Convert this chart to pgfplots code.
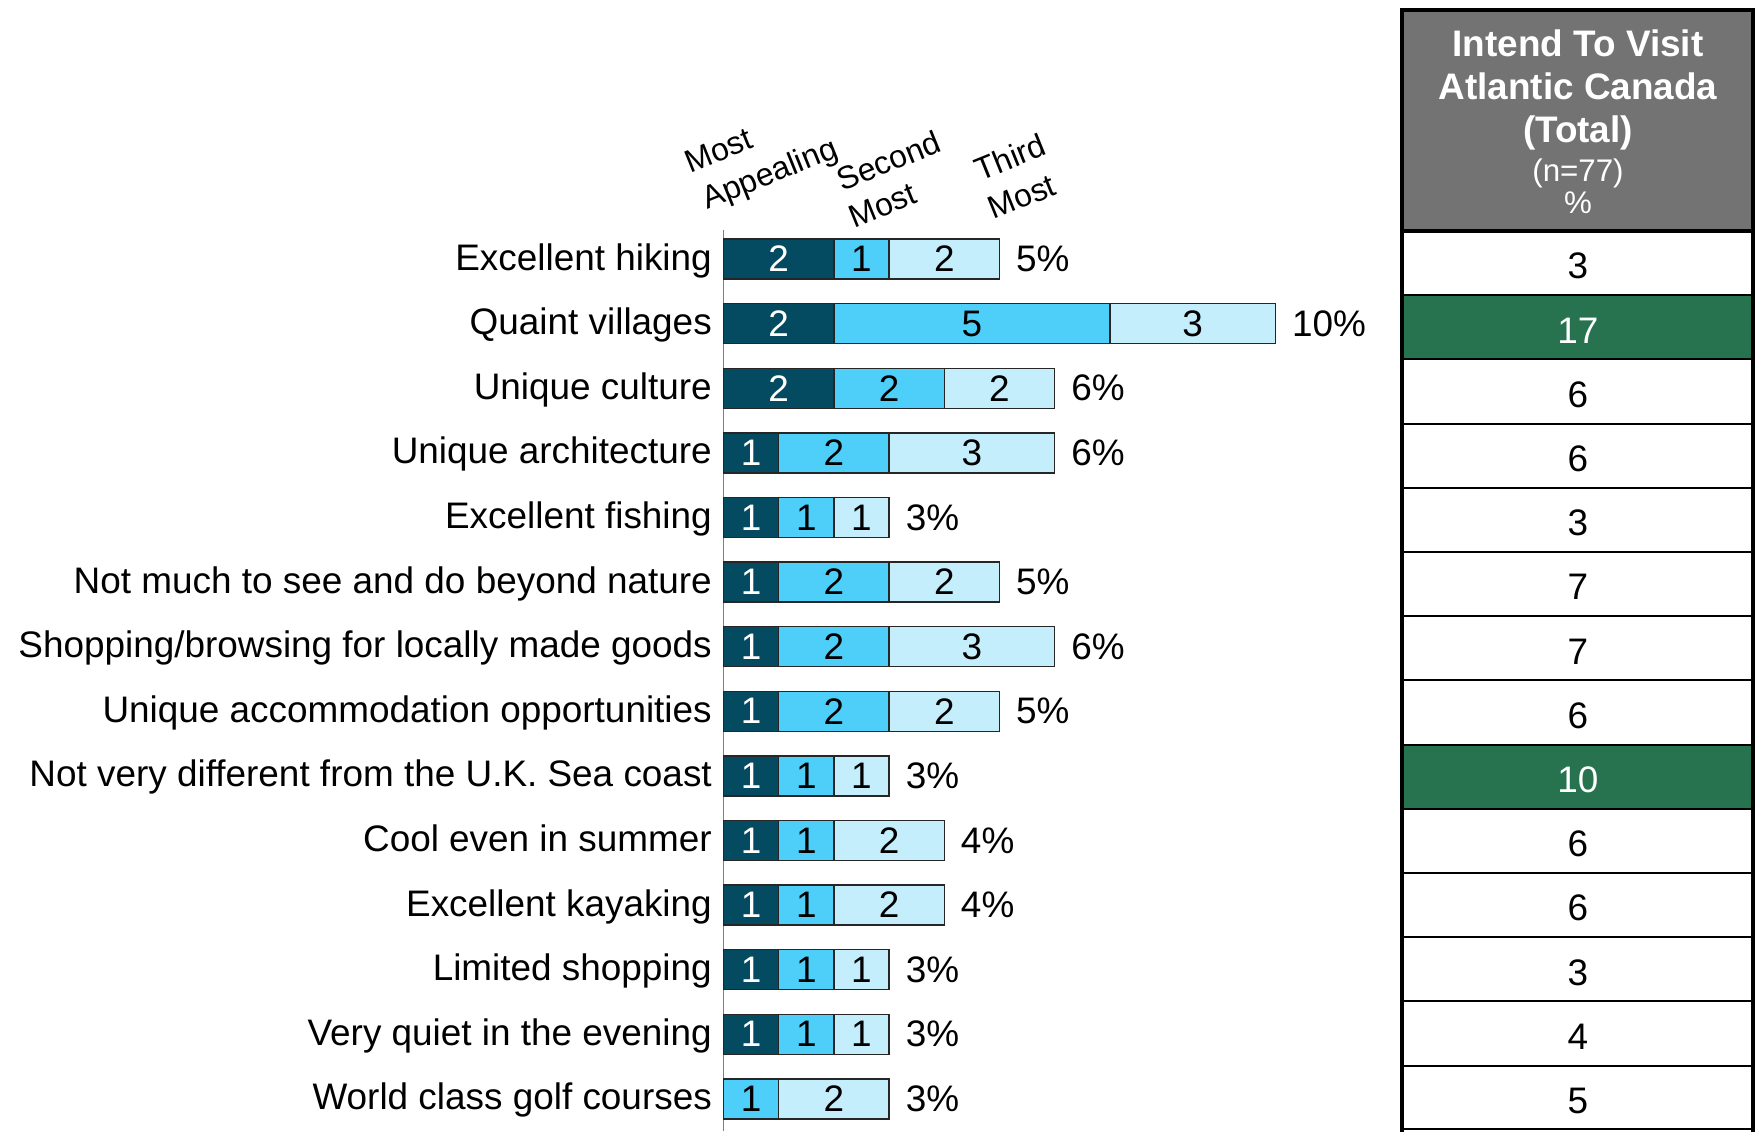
\documentclass[border=0pt]{standalone}
\usepackage{pgfplots}
\usepackage{pgfplotstable}
\pgfplotsset{compat=1.18}
\usepackage{fontspec}
\setmainfont{Liberation Sans}
\definecolor{cdark}{RGB}{4,74,97}
\definecolor{cmid}{RGB}{78,207,249}
\definecolor{clight}{RGB}{197,238,252}
\definecolor{cgreen}{RGB}{39,115,79}
\definecolor{cgray}{RGB}{115,115,115}
\newcommand\lab{\fontsize{10.5}{12}\selectfont}
\newcommand\hdr{\fontsize{9.1}{11}\selectfont}
\pgfplotstableread{
row a b c pct tab hl
0 2 1 2 5 3 0
1 2 5 3 10 17 1
2 2 2 2 6 6 0
3 1 2 3 6 6 0
4 1 1 1 3 3 0
5 1 2 2 5 7 0
6 1 2 3 6 7 0
7 1 2 2 5 6 0
8 1 1 1 3 10 1
9 1 1 2 4 6 0
10 1 1 2 4 6 0
11 1 1 1 3 3 0
12 1 1 1 3 4 0
13 0 1 2 3 5 0
}\data
\pgfplotstablecreatecol[create col/expr={\thisrow{a}+\thisrow{b}}]{ab}\data
\pgfplotstablecreatecol[create col/expr={\thisrow{a}+\thisrow{b}+\thisrow{c}}]{abc}\data
\pgfplotstablecreatecol[create col/expr={\thisrow{a}/2}]{ma}\data
\pgfplotstablecreatecol[create col/expr={\thisrow{a}+\thisrow{b}/2}]{mb}\data
\pgfplotstablecreatecol[create col/expr={\thisrow{a}+\thisrow{b}+\thisrow{c}/2}]{mc}\data
\begin{document}
\begin{tikzpicture}
\useasboundingbox (0,0) rectangle (17.6,11.31);
% table on the right
\fill[cgray] (14.02,11.21) rectangle (17.53,9.00);
\fill[cgreen] (14.02,8.358) rectangle (17.53,7.716);
\fill[cgreen] (14.02,3.864) rectangle (17.53,3.222);
\foreach \k in {1,...,13} \draw[line width=0.6pt] (14.02,{9.00-0.642*\k}) -- (17.53,{9.00-0.642*\k});
\draw[line width=0.6pt] (14.02,0.02) -- (17.53,0.02);
\draw[line width=0.9pt] (14.02,9.00) -- (17.53,9.00);
\draw[line width=1.4pt, line join=miter] (14.02,-0.1) -- (14.02,11.21) -- (17.53,11.21) -- (17.53,-0.1);
\node[anchor=base, text=white, font=\lab\bfseries] at (15.78,10.74) {Intend To Visit};
\node[anchor=base, text=white, font=\lab\bfseries] at (15.78,10.31) {Atlantic Canada};
\node[anchor=base, text=white, font=\lab\bfseries] at (15.78,9.88) {(Total)};
\node[anchor=base, text=white, font=\fontsize{8.9}{10}\selectfont] at (15.78,9.49) {(n=77)};
\node[anchor=base, text=white, font=\fontsize{8.9}{10}\selectfont] at (15.78,9.17) {\%};
% column headers
\node[anchor=base west, rotate=22, inner sep=0pt, font=\hdr] at (6.90,9.577) {Most};
\node[anchor=base west, rotate=22, inner sep=0pt, font=\hdr] at (7.07,9.21) {Appealing};
\node[anchor=base west, rotate=22, inner sep=0pt, font=\hdr] at (8.42,9.393) {Second};
\node[anchor=base west, rotate=22, inner sep=0pt, font=\hdr] at (8.537,9.027) {Most};
\node[anchor=base west, rotate=22, inner sep=0pt, font=\hdr] at (9.80,9.493) {Third};
\node[anchor=base west, rotate=22, inner sep=0pt, font=\hdr] at (9.933,9.11) {Most};
\begin{axis}[
  at={(7.235cm,0cm)}, anchor=south west,
  scale only axis, width=6.624cm, height=9.01cm,
  xmin=0, xmax=12, ymin=-0.449, ymax=13.498, y dir=reverse,
  axis x line=none, axis y line*=left,
  y axis line style={draw=black!50, line width=0.45pt},
  ytick={0,...,13},
  yticklabels={Excellent hiking, Quaint villages, Unique culture, Unique architecture, Excellent fishing, Not much to see and do beyond nature, Shopping/browsing for locally made goods, Unique accommodation opportunities, Not very different from the U.K. Sea coast, Cool even in summer, Excellent kayaking, Limited shopping, Very quiet in the evening, World class golf courses},
  major tick length=0pt,
  yticklabel style={font=\lab, anchor=base east, inner sep=0pt, xshift=-0.11cm, yshift=-0.11cm},
  clip=false,
]
\addplot[xbar, bar shift=0pt, bar width=0.4cm, fill=clight, draw=black!85, line width=0.4pt] table[x=abc, y=row]{\data};
\addplot[xbar, bar shift=0pt, bar width=0.4cm, fill=cmid, draw=black!85, line width=0.4pt] table[x=ab, y=row]{\data};
\addplot[xbar, bar shift=0pt, bar width=0.4cm, fill=cdark, draw=black!85, line width=0.4pt] table[x=a, y=row]{\data};
\addplot[draw=none, mark=none, point meta=explicit symbolic,
  restrict expr to domain={\thisrow{a}}{0.5:100},
  nodes near coords={\pgfplotspointmeta},
  every node near coord/.append style={anchor=center, text=white, font=\lab}]
  table[x=ma, y=row, meta=a]{\data};
\addplot[draw=none, mark=none, point meta=explicit symbolic,
  nodes near coords={\pgfplotspointmeta},
  every node near coord/.append style={anchor=center, text=black, font=\lab}]
  table[x=mb, y=row, meta=b]{\data};
\addplot[draw=none, mark=none, point meta=explicit symbolic,
  nodes near coords={\pgfplotspointmeta},
  every node near coord/.append style={anchor=center, text=black, font=\lab}]
  table[x=mc, y=row, meta=c]{\data};
\addplot[draw=none, mark=none, point meta=explicit symbolic,
  nodes near coords={\pgfplotspointmeta\%},
  every node near coord/.append style={anchor=west, inner sep=0pt, xshift=0.16cm, font=\lab}]
  table[x=abc, y=row, meta=pct]{\data};
\addplot[draw=none, mark=none, point meta=explicit symbolic,
  restrict expr to domain={\thisrow{hl}}{-0.5:0.5},
  nodes near coords={\pgfplotspointmeta},
  every node near coord/.append style={anchor=center, text=black, font=\lab}]
  table[x expr=15.48, y expr={\thisrow{row}*0.99381+0.11}, meta=tab]{\data};
\addplot[draw=none, mark=none, point meta=explicit symbolic,
  restrict expr to domain={\thisrow{hl}}{0.5:1.5},
  nodes near coords={\pgfplotspointmeta},
  every node near coord/.append style={anchor=center, text=white, font=\lab}]
  table[x expr=15.48, y expr={\thisrow{row}*0.99381+0.11}, meta=tab]{\data};
\end{axis}
\end{tikzpicture}
\end{document}
